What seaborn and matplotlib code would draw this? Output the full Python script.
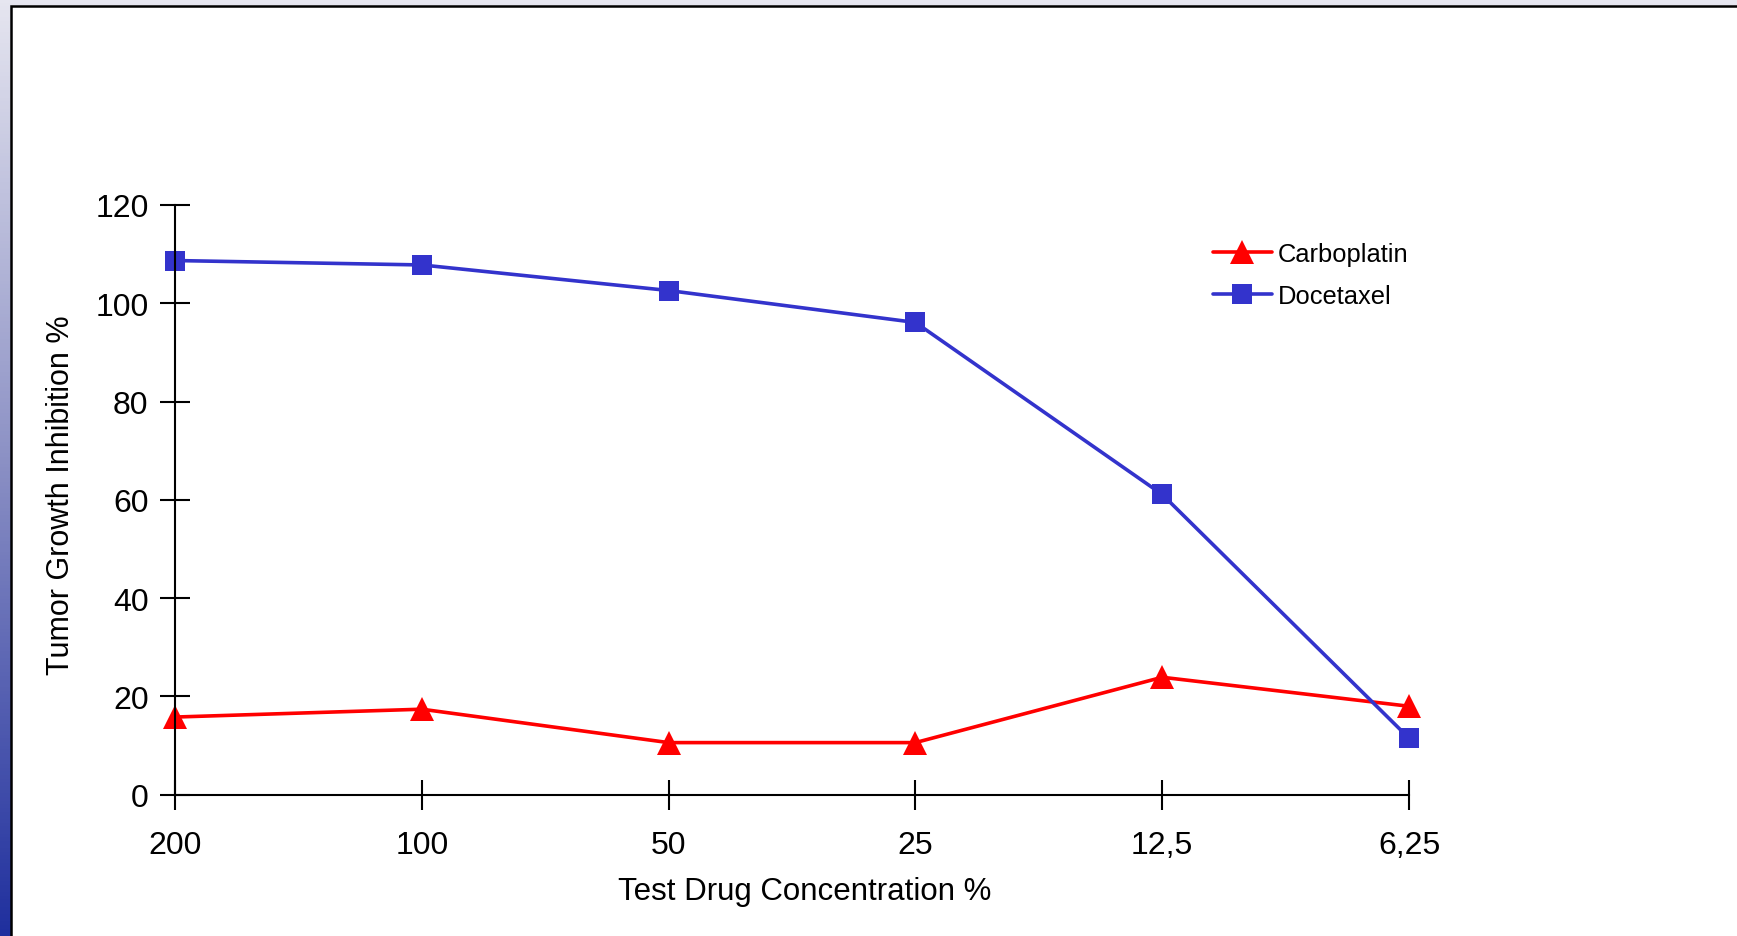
import numpy as np
import pandas as pd
import matplotlib
matplotlib.use("Agg")
import matplotlib.pyplot as plt
from matplotlib.patches import Rectangle
import seaborn as sns

concentrations = ["200", "100", "50", "25", "12,5", "6,25"]
carboplatin = [15.8, 17.4, 10.6, 10.6, 23.9, 18.0]
docetaxel = [108.7, 107.8, 102.6, 96.1, 61.1, 11.5]

df = pd.DataFrame({
    "pos": list(range(len(concentrations))) * 2,
    "value": carboplatin + docetaxel,
    "drug": ["Carboplatin"] * 6 + ["Docetaxel"] * 6,
})

sns.set_style("white")
plt.rcParams["font.family"] = ["Liberation Sans", "DejaVu Sans"]
plt.rcParams["text.color"] = "black"

fig = plt.figure(figsize=(17.37, 9.37), dpi=100)

# background gradient + white panel
bg = fig.add_axes([0, 0, 1, 1], zorder=-10)
grad = np.linspace(0, 1, 256).reshape(-1, 1)
cmap = matplotlib.colors.LinearSegmentedColormap.from_list("bg", ["#e6e6f0", "#8a8fc4", "#1f2f9e"])
bg.imshow(grad, aspect="auto", cmap=cmap, extent=[0, 1, 0, 1], origin="upper")
bg.add_patch(Rectangle((11 / 1737, -0.1), 1.2, 1 - 7 / 937 + 0.1, facecolor="white",
                       edgecolor="black", linewidth=1.8, transform=bg.transAxes))
bg.set_xlim(0, 1)
bg.set_ylim(0, 1)
bg.axis("off")

ax = fig.add_axes([175 / 1737, 1 - 795.7 / 937, (1409 - 175) / 1737, (795.7 - 206) / 937])
ax.patch.set_alpha(0)

palette = {"Carboplatin": "#ff0000", "Docetaxel": "#3333cc"}
markers = {"Carboplatin": "^", "Docetaxel": "s"}
sns.lineplot(data=df, x="pos", y="value", hue="drug", style="drug", palette=palette,
             markers=markers, dashes=False, markersize=14, linewidth=2.6,
             markeredgewidth=0, sort=False, ax=ax, clip_on=False)
for line in ax.lines:
    if line.get_marker() == "^":
        line.set_markersize(17)

ax.set_xlim(0, 5)
ax.set_ylim(0, 120)
ax.set_xticks(range(len(concentrations)))
ax.set_xticklabels(concentrations)
ax.set_yticks(range(0, 121, 20))
for s in ["top", "right"]:
    ax.spines[s].set_visible(False)
for s in ["left", "bottom"]:
    ax.spines[s].set_color("black")
    ax.spines[s].set_linewidth(1.5)
ax.tick_params(axis="both", bottom=True, left=True, direction="inout", length=22, width=1.5,
               color="black", labelsize=23, labelcolor="black")
ax.tick_params(axis="y", pad=8)
ax.tick_params(axis="x", pad=14.5)

ax.set_xlabel("Test Drug Concentration %", fontsize=22.5, color="black")
ax.set_ylabel("Tumor Growth Inhibition %", fontsize=22, color="black")
ax.xaxis.label.set_va("center")
ax.yaxis.label.set_va("center")
ax.xaxis.set_label_coords(0.51, (795.7 - 892) / 589.7)
ax.yaxis.set_label_coords((61 - 175) / 1234, 0.51)

leg = ax.legend(loc="center left", bbox_to_anchor=(1213 / 1737, 1 - 276 / 937),
                bbox_transform=fig.transFigure, frameon=False, fontsize=18.4,
                handlelength=2.3, handletextpad=0.25, labelspacing=0.7,
                borderpad=0, borderaxespad=0, title=None)
for t in leg.get_texts():
    t.set_color("black")

fig.savefig("out.png", dpi=100)
